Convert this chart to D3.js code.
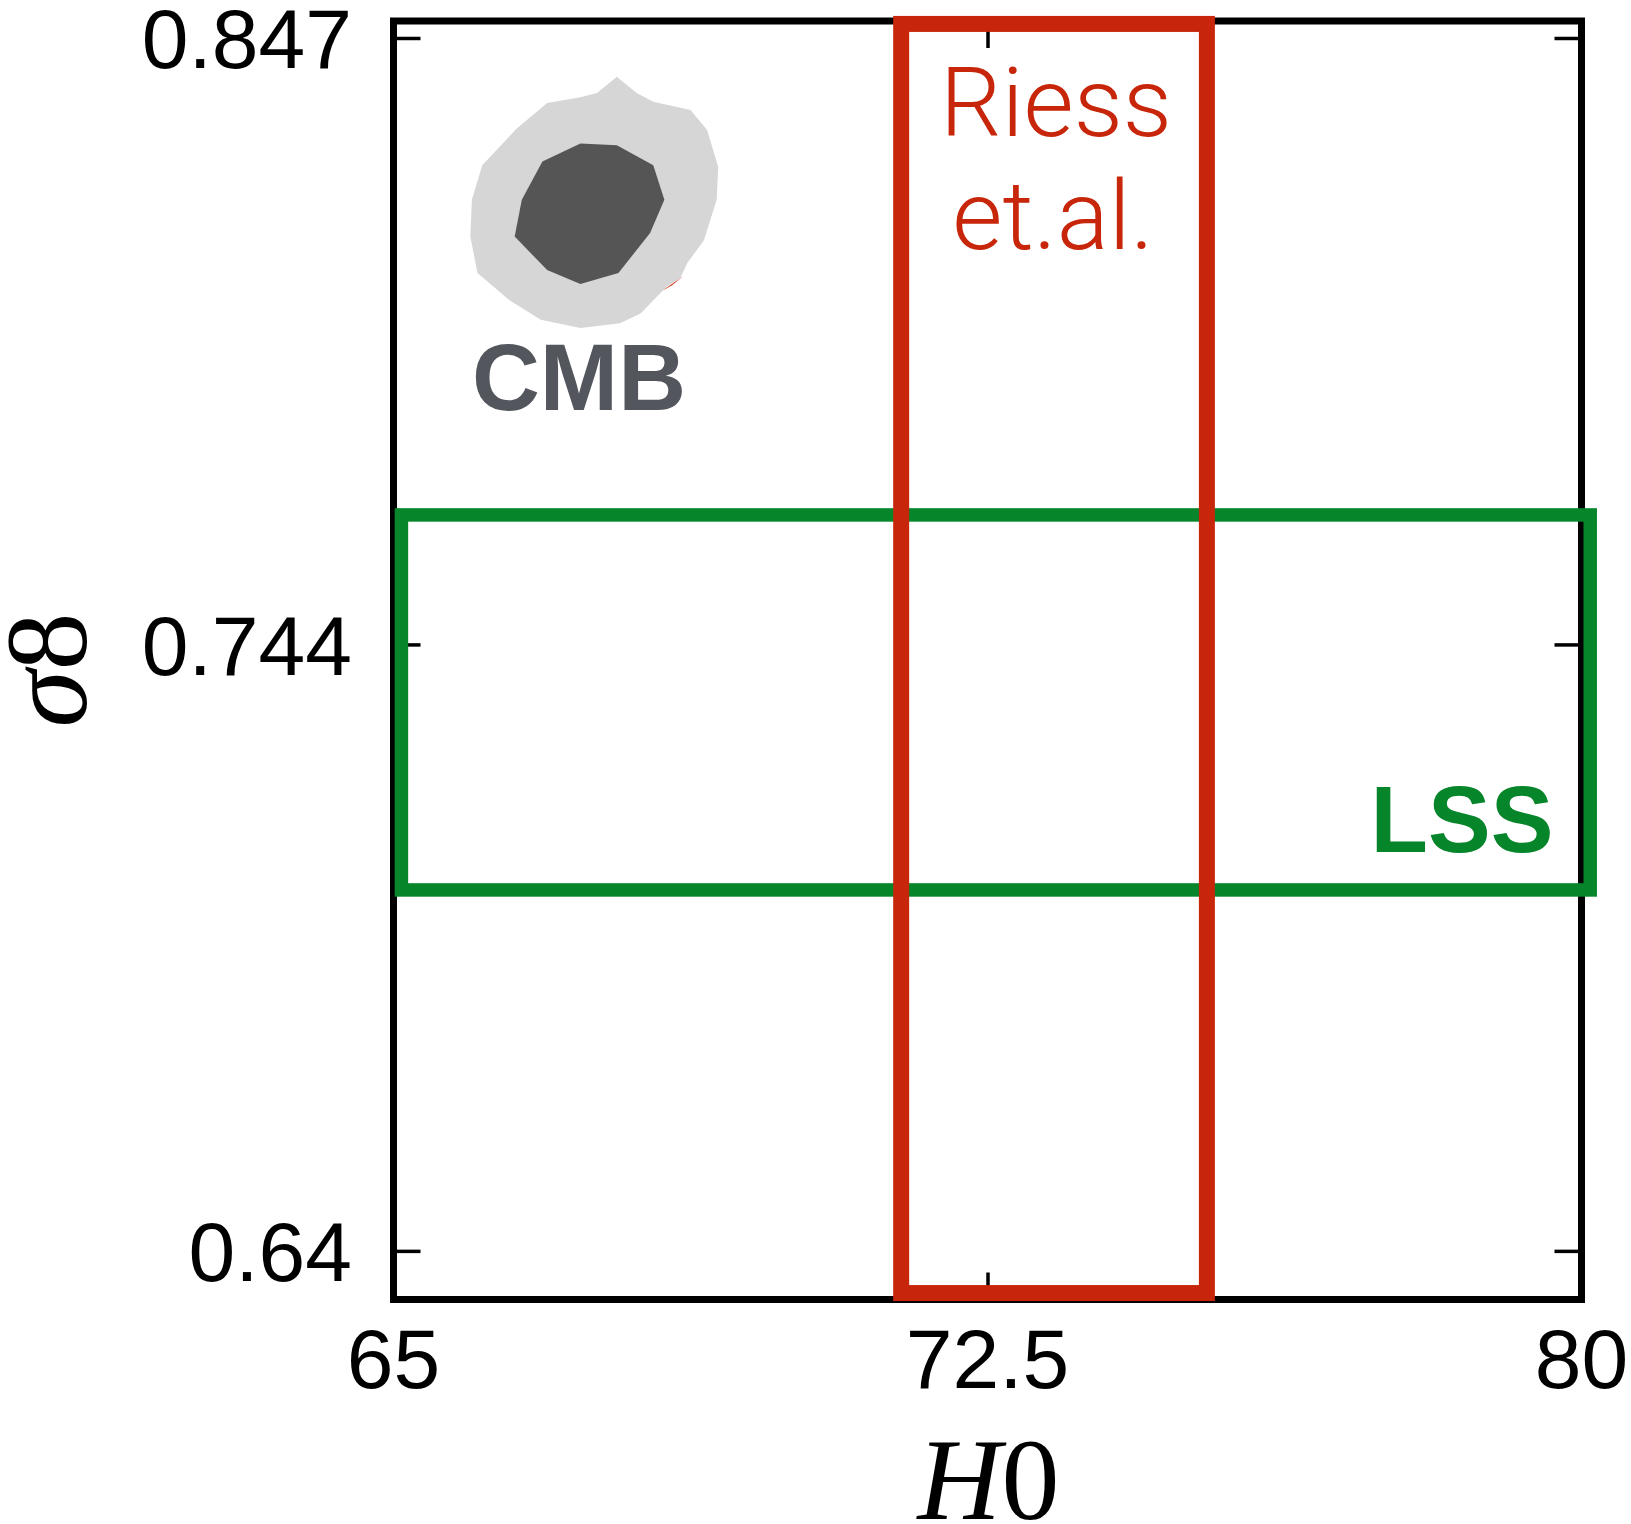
<!DOCTYPE html>
<html>
<head>
<meta charset="utf-8">
<script src="https://cdn.jsdelivr.net/npm/d3@7"></script>
<style>
    body { margin: 0; background: #fff; }
    svg { display: block; }
</style>
</head>
<body>
<svg id="chart" width="1631" height="1524"></svg>
<script>
// H0 axis
const xDomain = [65, 80]
const xTicks = [65, 72.5, 80]
const xTickLabels = ['65', '72.5', '80']

// sigma8 axis
const yDomain = [0.6317, 0.8499]
const yTicks = [0.64, 0.7435, 0.847]
const yTickLabels = ['0.64', '0.744', '0.847']

// Riess et al. band [H0 low, H0 high, s8 low, s8 high]
const riessBox = [71.41, 75.27, 0.6328, 0.8494]
// LSS band
const lssBox = [65.10, 80.11, 0.7016, 0.7656]

// CMB contours, [H0, sigma8]
const cmbOuter = [
    [67.82, 0.8404], [68.07, 0.8376], [68.28, 0.8361], [68.75, 0.8347],
    [68.96, 0.8313], [69.10, 0.8250], [69.08, 0.8194], [68.92, 0.8125],
    [68.71, 0.8086], [68.62, 0.8060], [68.45, 0.8046], [68.12, 0.8000],
    [67.86, 0.7983], [67.36, 0.7975], [66.86, 0.7989], [66.46, 0.8023],
    [66.06, 0.8069], [65.97, 0.8131], [65.99, 0.8194], [66.12, 0.8253],
    [66.56, 0.8316], [66.94, 0.8359], [67.36, 0.8369], [67.57, 0.8376]
]
const cmbInner = [
    [67.36, 0.8290], [67.82, 0.8287], [68.28, 0.8253], [68.42, 0.8194],
    [68.24, 0.8137], [67.84, 0.8069], [67.36, 0.8050], [66.94, 0.8074],
    [66.53, 0.8131], [66.62, 0.8194], [66.88, 0.8259]
]
// joint contour, nearly all hidden
const jointSliver = [
    [68.37, 0.8037], [68.66, 0.8064], [68.52, 0.8048]
]

const colors = {
    riess: '#c8260a',
    lss: '#07852b',
    cmbLight: '#d6d6d6',
    cmbDark: '#555555',
    cmbText: '#53575d'
}

const svg = d3.select('#chart')

const x = d3.scaleLinear().domain(xDomain).range([393.5, 1581.5])
const y = d3.scaleLinear().domain(yDomain).range([1299.5, 21])

const tickLen = 24
const labelFont = '"Liberation Sans", Arial, Helvetica, sans-serif'

const line = d3.line()
    .x((d) => x(d[0]))
    .y((d) => y(d[1]))
    .curve(d3.curveLinearClosed)

// contours
svg.append('path')
    .datum(jointSliver)
    .attr('d', line)
    .attr('fill', colors.riess)
    .attr('opacity', 0.8)

svg.append('path')
    .datum(cmbOuter)
    .attr('d', line)
    .attr('fill', colors.cmbLight)

svg.append('path')
    .datum(cmbInner)
    .attr('d', line)
    .attr('fill', colors.cmbDark)

// frame
svg.append('rect')
    .attr('x', x(xDomain[0]))
    .attr('y', y(yDomain[1]))
    .attr('width', x(xDomain[1]) - x(xDomain[0]))
    .attr('height', y(yDomain[0]) - y(yDomain[1]))
    .attr('fill', 'none')
    .attr('stroke', '#000')
    .attr('stroke-width', 7)

// inward ticks on all four sides
const yAxisLeft = d3.axisRight(y).tickValues(yTicks).tickSize(tickLen).tickFormat('')
const yAxisRight = d3.axisLeft(y).tickValues(yTicks).tickSize(tickLen).tickFormat('')
const xAxisTop = d3.axisBottom(x).tickValues(xTicks).tickSize(tickLen).tickFormat('')
const xAxisBottom = d3.axisTop(x).tickValues(xTicks).tickSize(tickLen).tickFormat('')

const tickGroups = [
    svg.append('g').attr('transform', `translate(${x(xDomain[0]) + 3},0)`).call(yAxisLeft),
    svg.append('g').attr('transform', `translate(${x(xDomain[1]) - 3},0)`).call(yAxisRight),
    svg.append('g').attr('transform', `translate(0,${y(yDomain[1]) + 3})`).call(xAxisTop),
    svg.append('g').attr('transform', `translate(0,${y(yDomain[0]) - 3})`).call(xAxisBottom)
]
tickGroups.forEach((g) => {
    g.select('.domain').remove()
    g.selectAll('.tick line').attr('stroke', '#000').attr('stroke-width', 3.5)
})

// tick labels
svg.append('g')
    .selectAll('text')
    .data(yTicks)
    .enter().append('text')
    .attr('x', 352)
    .attr('y', (d) => y(d))
    .attr('dy', '0.36em')
    .attr('text-anchor', 'end')
    .attr('font-family', labelFont)
    .attr('font-size', 84)
    .attr('fill', '#000')
    .text((d, i) => yTickLabels[i])

svg.append('g')
    .selectAll('text')
    .data(xTicks)
    .enter().append('text')
    .attr('x', (d) => x(d))
    .attr('y', 1388)
    .attr('text-anchor', 'middle')
    .attr('font-family', labelFont)
    .attr('font-size', 84)
    .attr('fill', '#000')
    .text((d, i) => xTickLabels[i])

// bands
const box = (b, color, width) => {
    svg.append('rect')
        .attr('x', x(b[0]))
        .attr('y', y(b[3]))
        .attr('width', x(b[1]) - x(b[0]))
        .attr('height', y(b[2]) - y(b[3]))
        .attr('fill', 'none')
        .attr('stroke', color)
        .attr('stroke-width', width)
}
box(lssBox, colors.lss, 13.5)
box(riessBox, colors.riess, 16)

// annotations
const riessX = (x(riessBox[0]) + x(riessBox[1])) / 2
const riessLabel = svg.append('g')
    .attr('font-family', 'Roboto, "Liberation Sans", sans-serif')
    .attr('font-weight', 300)
    .attr('font-size', 97)
    .attr('fill', colors.riess)
    .attr('text-anchor', 'middle')
riessLabel.append('text').attr('x', riessX + 2).attr('y', 136).text('Riess')
riessLabel.append('text').attr('x', riessX - 1).attr('y', 249).text('et.al.')

svg.append('text')
    .attr('x', 579)
    .attr('y', 410)
    .attr('text-anchor', 'middle')
    .attr('font-family', labelFont)
    .attr('font-weight', 'bold')
    .attr('font-size', 94)
    .attr('fill', colors.cmbText)
    .text('CMB')

svg.append('text')
    .attr('x', 1462)
    .attr('y', 852)
    .attr('text-anchor', 'middle')
    .attr('font-family', labelFont)
    .attr('font-weight', 'bold')
    .attr('font-size', 94)
    .attr('fill', colors.lss)
    .text('LSS')

// axis titles
const serif = '"Liberation Serif", "DejaVu Serif", serif'

const xTitle = svg.append('text')
    .attr('x', (x(xDomain[0]) + x(xDomain[1])) / 2 + 1)
    .attr('y', 1519)
    .attr('text-anchor', 'middle')
    .attr('font-family', serif)
    .attr('font-size', 116)
    .attr('fill', '#000')
xTitle.append('tspan').attr('font-style', 'italic').text('H')
xTitle.append('tspan').text('0')

const yTitle = svg.append('text')
    .attr('transform', 'translate(86,670) rotate(-90)')
    .attr('text-anchor', 'middle')
    .attr('font-family', serif)
    .attr('font-size', 116)
    .attr('fill', '#000')
yTitle.append('tspan').attr('font-style', 'italic').text('σ')
yTitle.append('tspan').text('8')
</script>
</body>
</html>
